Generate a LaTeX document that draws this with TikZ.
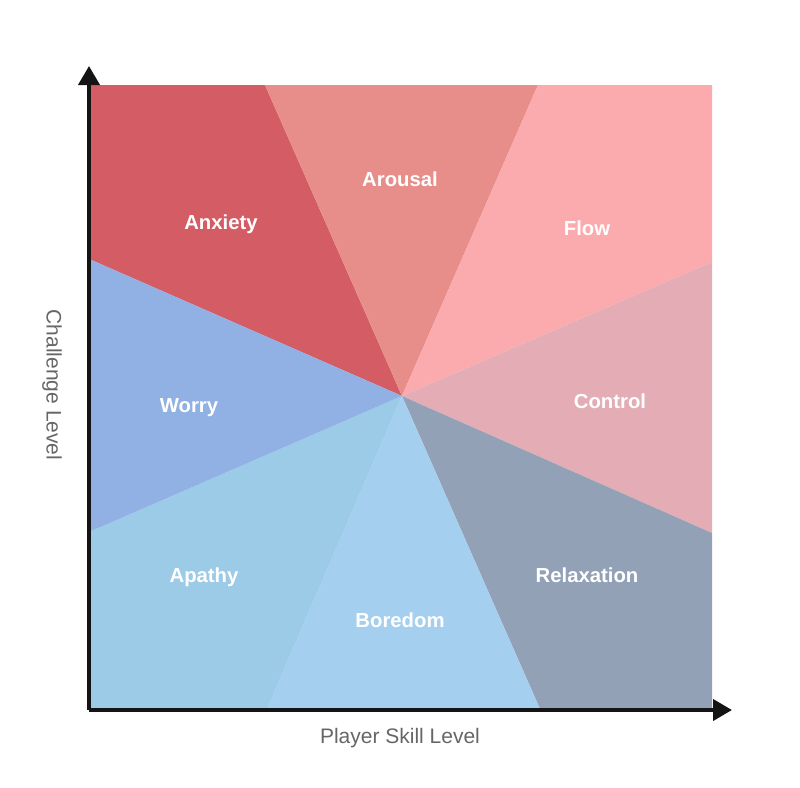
\documentclass[tikz,border=0pt]{standalone}
\usepackage{fontspec}
\setmainfont{Liberation Sans}
\usetikzlibrary{arrows.meta}
\definecolor{cAnx}{HTML}{D45D65}
\definecolor{cAro}{HTML}{E88E8A}
\definecolor{cFlo}{HTML}{FBAAAE}
\definecolor{cCon}{HTML}{E4ADB5}
\definecolor{cRel}{HTML}{93A1B7}
\definecolor{cBor}{HTML}{A5CFEF}
\definecolor{cApa}{HTML}{9CCBE8}
\definecolor{cWor}{HTML}{91B0E4}
\definecolor{axlab}{HTML}{666666}
\tikzset{
  zone/.style={font=\bfseries\fontsize{20.3}{24}\selectfont, text=white, inner sep=0pt, anchor=base},
  axislabel/.style={font=\fontsize{21}{24}\selectfont, text=axlab, inner sep=0pt},
  axisline/.style={line width=4pt, black!92, -{Triangle[width=21pt,length=19pt]}},
}
\begin{document}
\begin{tikzpicture}[x=1pt,y=-1pt]
\useasboundingbox (0,0) rectangle (800,787);
\coordinate (C) at (402,396);
\coordinate (TL) at (89,85);
\coordinate (TR) at (712,85);
\coordinate (BR) at (712,709);
\coordinate (BL) at (89,709);
\coordinate (T1) at (265,85);
\coordinate (T2) at (538,85);
\coordinate (L1) at (89,259);
\coordinate (L2) at (89,532);
\coordinate (R1) at (712,262);
\coordinate (R2) at (712,533);
\coordinate (B1) at (267,709);
\coordinate (B2) at (540,709);
\fill[cAnx] (C) -- (L1) -- (TL) -- (T1) -- cycle;
\fill[cAro] (C) -- (T1) -- (T2) -- cycle;
\fill[cFlo] (C) -- (T2) -- (TR) -- (R1) -- cycle;
\fill[cCon] (C) -- (R1) -- (R2) -- cycle;
\fill[cRel] (C) -- (R2) -- (BR) -- (B2) -- cycle;
\fill[cBor] (C) -- (B2) -- (B1) -- cycle;
\fill[cApa] (C) -- (B1) -- (BL) -- (L2) -- cycle;
\fill[cWor] (C) -- (L2) -- (L1) -- cycle;
\node[zone] (anx) at (221,229.5) {Anxiety};
\node[zone] (aro) at (400,186) {Arousal};
\node[zone] (flo) at (587,235.5) {Flow};
\node[zone] (wor) at (189,412) {Worry};
\node[zone] (con) at (610,408) {Control};
\node[zone] (apa) at (204,582) {Apathy};
\node[zone] (bor) at (400,627) {Boredom};
\node[zone] (rel) at (587,582) {Relaxation};
\coordinate (O) at (89,710);
\coordinate (Ytip) at (89,66);
\coordinate (Xtip) at (732,710);
\draw[axisline] (O) -- (Ytip);
\draw[axisline] (O) -- (Xtip);
\node[axislabel] (xl) at (400,738) {Player Skill Level};
\node[axislabel, rotate=-90] (yl) at (52,385) {Challenge Level};
\end{tikzpicture}
\end{document}
